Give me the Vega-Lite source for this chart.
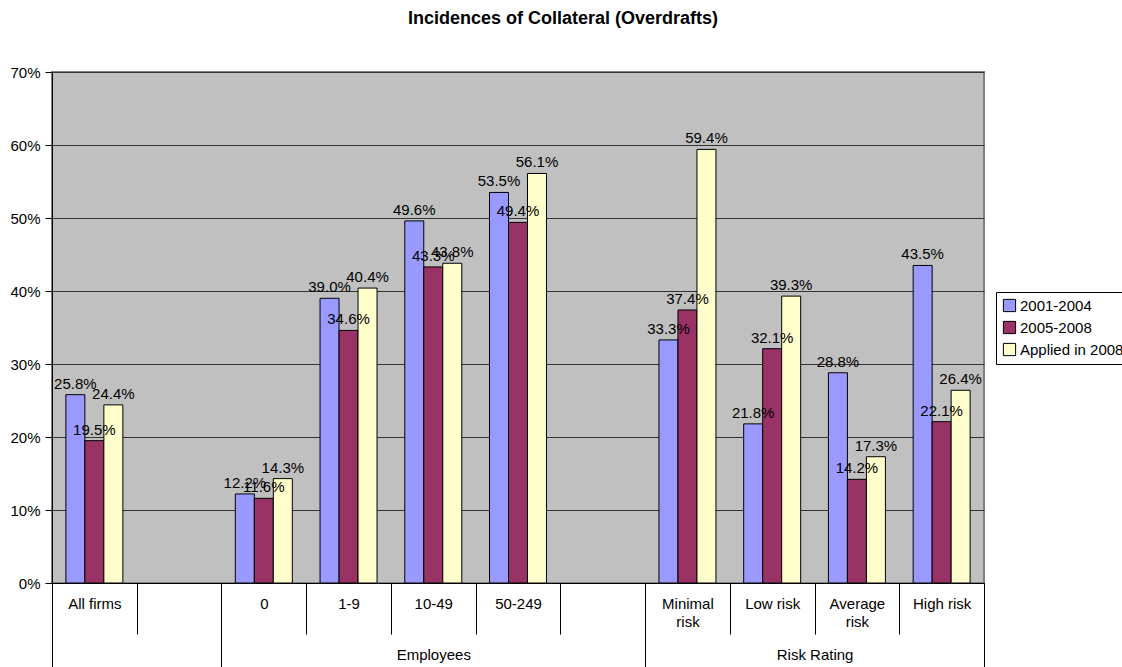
{
  "$schema": "https://vega.github.io/schema/vega-lite/v6.json",
  "width": 932,
  "height": 511,
  "autosize": "none",
  "padding": {"left": 52, "top": 72, "right": 138, "bottom": 84},
  "background": "white",
  "title": {
    "text": "Incidences of Collateral (Overdrafts)",
    "font": "Liberation Sans",
    "fontSize": 18,
    "fontWeight": "bold",
    "color": "black",
    "anchor": "middle",
    "dx": 45,
    "offset": 23,
    "baseline": "alphabetic"
  },
  "data": {
    "values": [
      {"cat": "All firms", "series": "2001-2004", "value": 0.258},
      {"cat": "All firms", "series": "2005-2008", "value": 0.195},
      {"cat": "All firms", "series": "Applied in 2008", "value": 0.244},
      {"cat": "0", "series": "2001-2004", "value": 0.122},
      {"cat": "0", "series": "2005-2008", "value": 0.116},
      {"cat": "0", "series": "Applied in 2008", "value": 0.143},
      {"cat": "1-9", "series": "2001-2004", "value": 0.390},
      {"cat": "1-9", "series": "2005-2008", "value": 0.346},
      {"cat": "1-9", "series": "Applied in 2008", "value": 0.404},
      {"cat": "10-49", "series": "2001-2004", "value": 0.496},
      {"cat": "10-49", "series": "2005-2008", "value": 0.433},
      {"cat": "10-49", "series": "Applied in 2008", "value": 0.438},
      {"cat": "50-249", "series": "2001-2004", "value": 0.535},
      {"cat": "50-249", "series": "2005-2008", "value": 0.494},
      {"cat": "50-249", "series": "Applied in 2008", "value": 0.561},
      {"cat": "Minimal risk", "series": "2001-2004", "value": 0.333},
      {"cat": "Minimal risk", "series": "2005-2008", "value": 0.374},
      {"cat": "Minimal risk", "series": "Applied in 2008", "value": 0.594},
      {"cat": "Low risk", "series": "2001-2004", "value": 0.218},
      {"cat": "Low risk", "series": "2005-2008", "value": 0.321},
      {"cat": "Low risk", "series": "Applied in 2008", "value": 0.393},
      {"cat": "Average risk", "series": "2001-2004", "value": 0.288},
      {"cat": "Average risk", "series": "2005-2008", "value": 0.142},
      {"cat": "Average risk", "series": "Applied in 2008", "value": 0.173},
      {"cat": "High risk", "series": "2001-2004", "value": 0.435},
      {"cat": "High risk", "series": "2005-2008", "value": 0.221},
      {"cat": "High risk", "series": "Applied in 2008", "value": 0.264}
    ]
  },
  "encoding": {
    "xOffset": {
      "field": "series",
      "type": "nominal",
      "scale": {"domain": ["2001-2004", "2005-2008", "Applied in 2008"], "paddingInner": 0, "paddingOuter": 0.73}
    },
    "y": {
      "field": "value",
      "type": "quantitative",
      "scale": {"domain": [0, 0.7], "nice": false},
      "axis": {
        "title": null,
        "format": ".0%",
        "values": [0, 0.1, 0.2, 0.3, 0.4, 0.5, 0.6, 0.7],
        "grid": true,
        "gridColor": "#333333",
        "gridWidth": 1,
        "domainColor": "black",
        "tickColor": "black",
        "tickSize": 7,
        "labelPadding": 5,
        "labelFont": "Liberation Sans",
        "labelFontSize": 15,
        "labelColor": "black"
      }
    }
  },
  "layer": [
    {
      "mark": {"type": "bar", "stroke": "black", "strokeWidth": 1},
      "encoding": {
        "x": {
          "field": "cat",
          "type": "nominal",
          "sort": null,
          "scale": {"domain": ["All firms", " ", "0", "1-9", "10-49", "50-249", "  ", "Minimal risk", "Low risk", "Average risk", "High risk"], "paddingInner": 0, "paddingOuter": 0},
          "axis": {
            "orient": "bottom",
            "title": null,
            "labelAngle": 0,
            "tickBand": "extent",
            "tickSize": 51,
            "tickColor": "black",
            "domainColor": "black",
            "grid": false,
            "labelPadding": -38,
            "labelBaseline": "top",
            "labelLineHeight": 18,
            "labelFont": "Liberation Sans",
            "labelFontSize": 15,
            "labelColor": "black",
            "labelExpr": "datum.value == 'Minimal risk' ? ['Minimal', 'risk'] : datum.value == 'Average risk' ? ['Average', 'risk'] : datum.label"
          }
        },
        "color": {
          "field": "series",
          "type": "nominal",
          "scale": {"domain": ["2001-2004", "2005-2008", "Applied in 2008"], "range": ["#9999FF", "#993366", "#FFFFCC"]},
          "legend": {
            "title": null,
            "orient": "none",
            "legendX": 944,
            "legendY": 220,
            "symbolType": "square",
            "symbolSize": 150,
            "symbolStrokeColor": "black",
            "symbolStrokeWidth": 1,
            "labelFont": "Liberation Sans",
            "labelFontSize": 15,
            "labelColor": "black",
            "labelOffset": 3,
            "rowPadding": 5,
            "padding": 6,
            "strokeColor": "black",
            "fillColor": "white",
            "labelLimit": 300
          }
        }
      }
    },
    {
      "mark": {"type": "text", "font": "Liberation Sans", "fontSize": 15, "color": "black", "baseline": "alphabetic", "dy": -6},
      "encoding": {
        "x": {
          "field": "cat",
          "type": "nominal",
          "sort": null,
          "scale": {"domain": ["All firms", " ", "0", "1-9", "10-49", "50-249", "  ", "Minimal risk", "Low risk", "Average risk", "High risk"], "paddingInner": 0, "paddingOuter": 0},
          "axis": {
            "orient": "bottom",
            "title": null,
            "labelAngle": 0,
            "tickBand": "extent",
            "tickSize": 84,
            "tickColor": "black",
            "tickOpacity": {"condition": {"test": "datum.index < 0 || datum.value == null || datum.value == ' ' || datum.value == '  ' || datum.value == 'High risk'", "value": 1}, "value": 0},
            "domain": false,
            "grid": false,
            "labelPadding": -20,
            "labelBaseline": "top",
            "labelFont": "Liberation Sans",
            "labelFontSize": 15,
            "labelColor": "black",
            "labelOffset": {"condition": {"test": "datum.value == 'Low risk'", "value": 42.4}, "value": 0},
            "labelExpr": "datum.value == '10-49' ? 'Employees' : datum.value == 'Low risk' ? 'Risk Rating' : ''"
          }
        },
        "text": {"field": "value", "type": "quantitative", "format": ".1%"}
      }
    }
  ],
  "resolve": {"axis": {"x": "independent"}},
  "config": {
    "view": {"fill": "#C0C0C0", "stroke": "#808080", "strokeWidth": 2}
  }
}
